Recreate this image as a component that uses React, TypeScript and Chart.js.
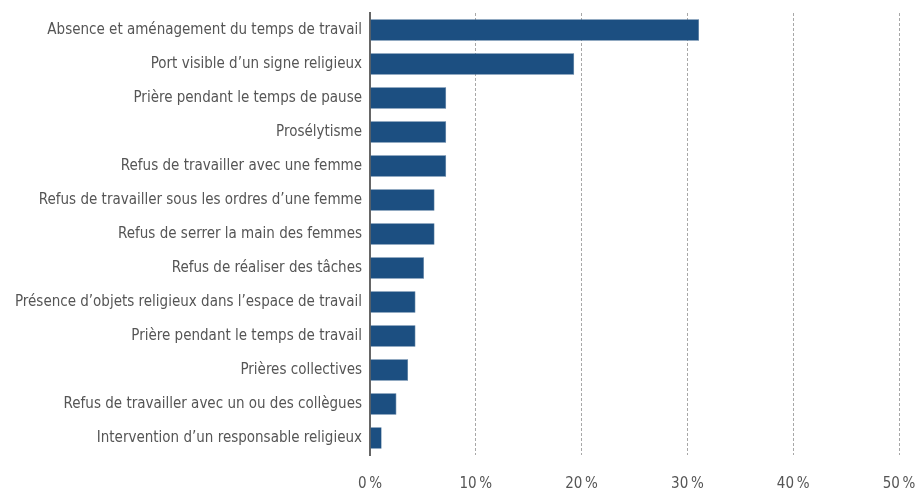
import React, { useEffect, useRef } from "react";
import { Chart, registerables } from "chart.js";

Chart.register(...registerables);

const categories = [
  "Absence et aménagement du temps de travail",
  "Port visible d’un signe religieux",
  "Prière pendant le temps de pause",
  "Prosélytisme",
  "Refus de travailler avec une femme",
  "Refus de travailler sous les ordres d’une femme",
  "Refus de serrer la main des femmes",
  "Refus de réaliser des tâches",
  "Présence d’objets religieux dans l’espace de travail",
  "Prière pendant le temps de travail",
  "Prières collectives",
  "Refus de travailler avec un ou des collègues",
  "Intervention d’un responsable religieux",
];

const values = [31.1, 19.3, 7.2, 7.2, 7.2, 6.1, 6.1, 5.1, 4.3, 4.3, 3.6, 2.5, 1.1];

const xTicks = [0, 10, 20, 30, 40, 50];

const FONT = "'Liberation Sans Narrow', 'DejaVu Sans Condensed', 'Liberation Sans', sans-serif";

export default function App() {
  const ref = useRef<HTMLCanvasElement | null>(null);

  useEffect(() => {
    document.body.style.margin = "0";
    const canvas = ref.current;
    if (!canvas) return;
    const chart = new Chart(canvas, {
      type: "bar",
      data: {
        labels: categories,
        datasets: [
          {
            data: values,
            backgroundColor: "#1c4f81",
            borderColor: "#3d6891",
            borderWidth: 0.6,
            barPercentage: 0.63,
            categoryPercentage: 1,
          },
        ],
      },
      options: {
        indexAxis: "y",
        animation: false,
        responsive: false,
        maintainAspectRatio: false,
        devicePixelRatio: 1,
        layout: { padding: { top: 13, right: 0, left: 0, bottom: 0 } },
        plugins: {
          legend: { display: false },
          tooltip: { enabled: false },
        },
        scales: {
          x: {
            type: "linear",
            min: 0,
            max: 50,
            afterBuildTicks: (scale: any) => {
              scale.ticks = xTicks.map((v) => ({ value: v }));
            },
            afterFit: (scale: any) => {
              scale.height = 33;
              scale.paddingRight = 16;
              scale.paddingLeft = 0;
            },
            border: { display: false, dash: [3, 2] },
            grid: {
              drawTicks: false,
              color: (ctx: any) => (ctx.tick && ctx.tick.value === 0 ? "rgba(0,0,0,0)" : "#a8a8a8"),
              lineWidth: 1,
            },
            ticks: {
              padding: 20,
              color: "#555555",
              font: { family: FONT, size: 15 },
              callback: (v: any) => `${v}\u202f%`,
            },
          },
          y: {
            afterFit: (scale: any) => {
              scale.width = 370;
              scale.paddingTop = 0;
              scale.paddingBottom = 0;
            },
            border: { display: true, color: "#666666", width: 2 },
            grid: { display: false, drawTicks: false },
            ticks: {
              padding: 8,
              color: "#555555",
              font: { family: FONT, size: 15 },
            },
          },
        },
      },
    } as any);
    return () => chart.destroy();
  }, []);

  return (
    <div style={{ position: "fixed", left: 0, top: 0, width: 915, height: 488, overflow: "hidden", background: "#fff" }}>
      <canvas ref={ref} width={915} height={488} style={{ width: 915, height: 488, display: "block" }} />
    </div>
  );
}
